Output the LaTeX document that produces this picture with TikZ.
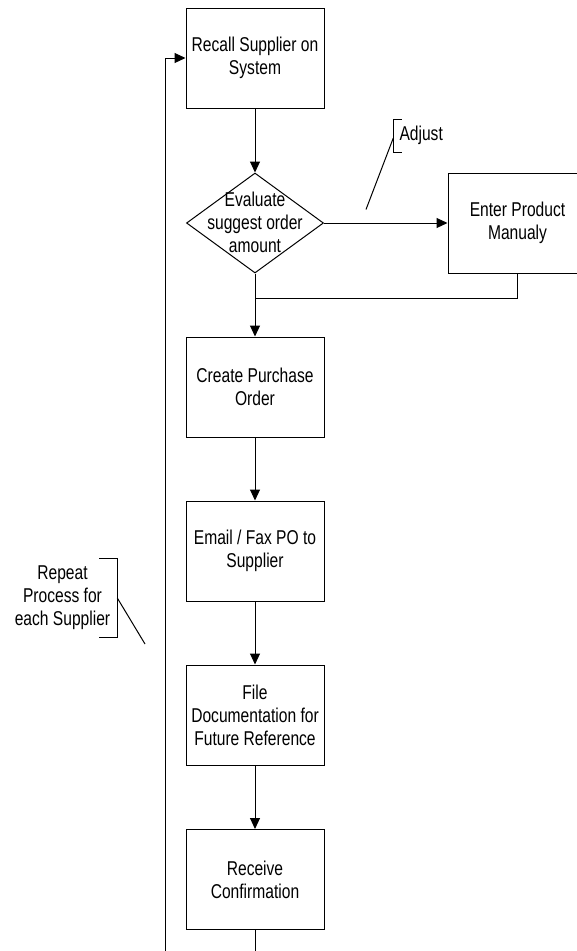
\documentclass[tikz,border=0pt]{standalone}
\usepackage{fontspec}
\setmainfont{Liberation Sans}[FakeStretch=0.78]
\usetikzlibrary{arrows.meta,shapes.geometric}
\tikzset{
  flowbox/.style={draw, rectangle, minimum width=138pt, minimum height=100pt, inner sep=0pt},
  decision/.style={draw, diamond, minimum width=137pt, minimum height=100pt, inner sep=0pt},
  txt/.style={align=center, inner sep=0pt, font=\fontsize{20pt}{23pt}\selectfont},
  arr/.style={-{Triangle[length=11pt,width=10pt]}},
}
\begin{document}
\begin{tikzpicture}[x=1pt, y=-1pt, line width=1pt]
\clip (0,0) rectangle (577,951);

% process steps
\node[flowbox] (recall) at (255,58) {};
\node[txt] (recalltxt) at (255,58) {Recall Supplier on\\System};
\node[decision] (eval) at (255,223) {};
\node[txt] (evaltxt) at (255,222) {Evaluate\\suggest order\\amount};
\node[flowbox, minimum width=139pt] (enter) at (517.5,223) {};
\node[txt] (entertxt) at (517.5,223) {Enter Product\\Manualy};
\node[flowbox] (create) at (255,387) {};
\node[txt] (createtxt) at (255,387) {Create Purchase\\Order};
\node[flowbox] (email) at (255,551) {};
\node[txt] (emailtxt) at (255,551) {Email / Fax PO to\\Supplier};
\node[flowbox] (file) at (255,715) {};
\node[txt] (filetxt) at (255,715) {File\\Documentation for\\Future Reference};
\node[flowbox] (receive) at (255,879.5) {};
\node[txt] (receivetxt) at (255,879.5) {Receive\\Confirmation};

% flow connectors
\coordinate (join) at (255,298);
\coordinate (tailR) at (255,960);
\coordinate (tailL) at (165.7,960);
\draw[arr] (recall.south) -- (eval.north);
\draw[arr] (eval.east) -- (enter.west);
\draw (enter.south) |- (join);
\draw[arr] (eval.south) -- (create.north);
\draw[arr] (create.south) -- (email.north);
\draw[arr] (email.south) -- (file.north);
\draw[arr] (file.south) -- (receive.north);
\draw (receive.south) -- (tailR);
\draw[arr] (tailL) |- (recall.west);

% annotation: Adjust
\draw (401.7,119) -- (393.3,119) -- (393.3,152) -- (401.7,152);
\draw (393.3,138) -- (366,209.5);
\node[txt, anchor=west] (adjust) at (399,135) {Adjust};

% annotation: repeat loop
\draw (99,558) -- (117.3,558) -- (117.3,637) -- (99,637);
\draw (117.3,598) -- (145,644);
\node[txt] (repeat) at (62.5,597.5) {Repeat\\Process for\\each Supplier};
\end{tikzpicture}
\end{document}
